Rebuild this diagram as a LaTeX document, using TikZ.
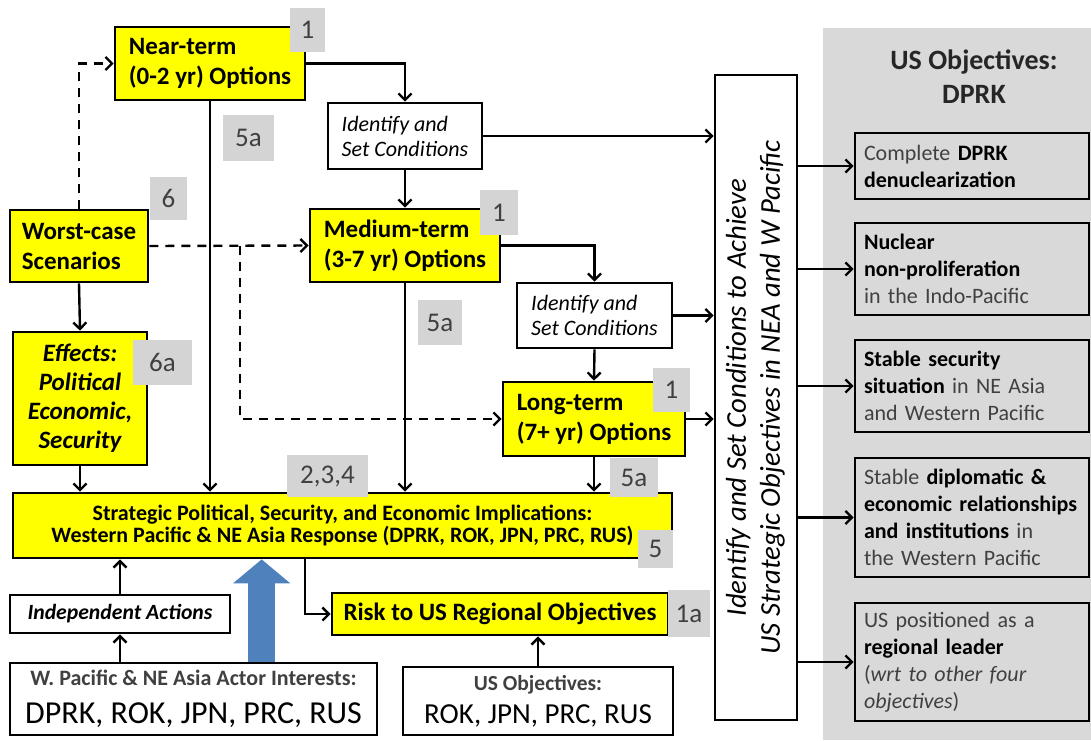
\documentclass[tikz,border=0pt]{standalone}
\usepackage{fontspec}
\setmainfont{Carlito}
\usepackage{graphicx}
\usetikzlibrary{arrows.meta, positioning, calc}
\definecolor{yel}{HTML}{FFFF00}
\definecolor{panelgray}{HTML}{D9D9D9}
\definecolor{tagfill}{HTML}{D4D4D4}
\definecolor{tagtext}{HTML}{404040}
\definecolor{arrblue}{HTML}{4F81BD}
\newcommand{\objb}[1]{\textcolor{black}{\textbf{#1}}}

\begin{document}
\begin{tikzpicture}[
    x=1pt, y=-1pt,
    nd/.style={draw, line width=2.7pt, align=center, inner sep=4pt},
    opt/.style={nd, fill=yel, align=left, font=\bfseries\fontsize{25}{30}\selectfont},
    cond/.style={nd, fill=white, align=left, font=\itshape\fontsize{22}{25}\selectfont},
    obj/.style={nd, fill=panelgray, align=left, text width=216pt, inner xsep=9pt, text=tagtext, font=\fontsize{22}{27}\selectfont},
    tag/.style={fill=tagfill, text=tagtext, inner sep=0pt, font=\fontsize{27}{30}\selectfont},
    ax/.style={line width=2.4pt, -{Straight Barb[length=6.5pt,width=13pt]}},
    bnd/.style={ax, dash pattern=on 9pt off 7pt},
    big/.style={line width=27pt, draw=arrblue, -{Triangle[length=24pt,width=56pt]}}
]
\useasboundingbox (0,0) rectangle (1091,740);

% right panel
\node[fill=panelgray, minimum width=268pt, minimum height=712pt, inner sep=0pt] (panel) at (957,384) {};
\node[font=\bfseries\fontsize{28}{34}\selectfont, align=center, text=black!85] (ptitle) at (974,77) {US Objectives:\\DPRK};

\node[obj, minimum height=66pt] (o1) at (972,166) {Complete \objb{DPRK}\\\objb{denuclearization}};
\node[obj, minimum height=92pt] (o2) at (972,269) {\objb{Nuclear}\\\objb{non-proliferation}\\in the Indo-Pacific};
\node[obj, minimum height=92pt] (o3) at (972,386) {\objb{Stable security}\\\objb{situation} in NE Asia\\and Western Pacific};
\node[obj, minimum height=119pt] (o4) at (972,517.5) {Stable \objb{diplomatic \&}\\\objb{economic relationships}\\\objb{and institutions} in\\the Western Pacific};
\node[obj, minimum height=118pt] (o5) at (972,662) {US positioned as a\\\objb{regional leader}\\(\textit{wrt to other four}\\\textit{objectives})};

% options column
\node[opt, minimum width=190pt, minimum height=73pt] (near) at (210,63.5) {Near-term\\(0-2 yr) Options};
\node[cond, minimum width=154pt, minimum height=66pt] (cond1) at (405,136) {Identify and\\Set Conditions};
\node[opt, minimum width=190pt, minimum height=73pt] (med) at (405,245.5) {Medium-term\\(3-7 yr) Options};
\node[cond, minimum width=155pt, minimum height=65pt] (cond2) at (594.5,315.5) {Identify and\\Set Conditions};
\node[opt, minimum width=182pt, minimum height=74pt] (long) at (594,419) {Long-term\\(7+ yr) Options};

\node[opt, minimum width=138pt, minimum height=72pt] (worst) at (79,246) {Worst-case\\Scenarios};
\node[opt, align=center, minimum width=134pt, minimum height=133pt, font=\bfseries\itshape\fontsize{25}{29}\selectfont] (effects) at (80,398.5) {Effects:\\Political\\Economic,\\Security};

\node[opt, align=center, minimum width=659pt, minimum height=65pt, font=\bfseries\fontsize{22}{22.5}\selectfont] (strat) at (342.5,525.5) {Strategic Political, Security, and Economic Implications:\\Western Pacific \& NE Asia Response (DPRK, ROK, JPN, PRC, RUS)};

\node[nd, fill=white, minimum width=220pt, minimum height=38pt, font=\bfseries\itshape\fontsize{21.7}{25}\selectfont] (indep) at (120,614) {Independent Actions};
\node[nd, fill=white, minimum width=367pt, minimum height=72pt, font=\fontsize{32}{38}\selectfont] (actor) at (193.5,699) {{\color{tagtext}\bfseries\fontsize{22}{26}\selectfont W. Pacific \& NE Asia Actor Interests:}\\DPRK, ROK, JPN, PRC, RUS};

\node[opt, align=center, minimum width=336pt, minimum height=42pt, font=\bfseries\fontsize{25}{29}\selectfont] (risk) at (500,614) {Risk to US Regional Objectives};
\node[nd, fill=white, minimum width=270pt, minimum height=68pt, font=\fontsize{29}{33}\selectfont] (usobj) at (538,701) {{\color{tagtext}\bfseries\fontsize{21.5}{26}\selectfont US Objectives:}\\ROK, JPN, PRC, RUS};

\node[nd, fill=white, minimum width=82pt, minimum height=645pt, inner sep=0pt, font=\itshape\fontsize{28.7}{34}\selectfont] (vbox) at (756,397.5) {\rotatebox{90}{\begin{tabular}{@{}c@{}}Identify and Set Conditions to Achieve\\US Strategic Objectives in NEA and W Pacific\end{tabular}}};

% solid flow
\draw[ax] (near.east) -| (cond1.north);
\draw[ax] (cond1.south) -- (med.north);
\draw[ax] (med.east) -| (cond2.north);
\draw[ax] (cond2.south) -- (long.north);
\draw[ax] (long.south) -- (long.south |- strat.north);
\draw[ax] (near.south) -- (near.south |- strat.north);
\draw[ax] (med.south) -- (med.south |- strat.north);
\draw[ax] (worst.south) -- (effects.north);
\draw[ax] (effects.south) -- (effects.south |- strat.north);
\draw[ax] (indep.north) -- (indep.north |- strat.south);
\draw[ax] (actor.north -| indep.north) -- (indep.south);
\draw[ax] ([xshift=-37.5pt]strat.south) |- (risk.west);
\draw[ax] (usobj.north) -- (usobj.north |- risk.south);

% into the conditions box
\draw[ax] (cond1.east) -- (cond1.east -| vbox.west);
\draw[ax] (cond2.east) -- (cond2.east -| vbox.west);
\draw[ax] (long.east) -- (long.east -| vbox.west);

% out to the objectives
\foreach \o in {o1,o2,o3,o4,o5}
    \draw[ax] (\o.west -| vbox.east) -- (\o.west);

% worst-case branches
\coordinate (wsplit) at (240,246);
\draw[bnd] (worst.north) |- (near.west);
\draw[bnd] (worst.east) -- (med.west);
\draw[bnd] (wsplit) |- (long.west);

% actor interests push
\coordinate (bfoot) at ([xshift=253pt]actor.north west);
\draw[big] (bfoot) -- (bfoot |- strat.south);

% grey reference tags
\node[tag, minimum width=35pt, minimum height=44pt] (tn1) at (307.5,30) {1};
\node[tag, minimum width=51pt, minimum height=46pt] (tn5) at (248.5,138) {5a};
\node[tag, minimum width=37pt, minimum height=43pt] (t6) at (168.5,198.5) {6};
\node[tag, minimum width=38pt, minimum height=45pt] (tm1) at (499,212.5) {1};
\node[tag, minimum width=44pt, minimum height=45pt] (tm5) at (440,322.5) {5a};
\node[tag, minimum width=59pt, minimum height=45pt] (t6a) at (162.5,362.5) {6a};
\node[tag, minimum width=37pt, minimum height=44pt] (tl1) at (671.5,390) {1};
\node[tag, minimum width=48pt, minimum height=39pt] (tl5) at (634,477.5) {5a};
\node[tag, minimum width=81pt, minimum height=42pt] (t234) at (327.5,476) {2,3,4};
\node[tag, minimum width=35pt, minimum height=38pt] (t5) at (655.5,549) {5};
\node[tag, minimum width=42pt, minimum height=47pt] (t1a) at (689,613.5) {1a};
\end{tikzpicture}
\end{document}
